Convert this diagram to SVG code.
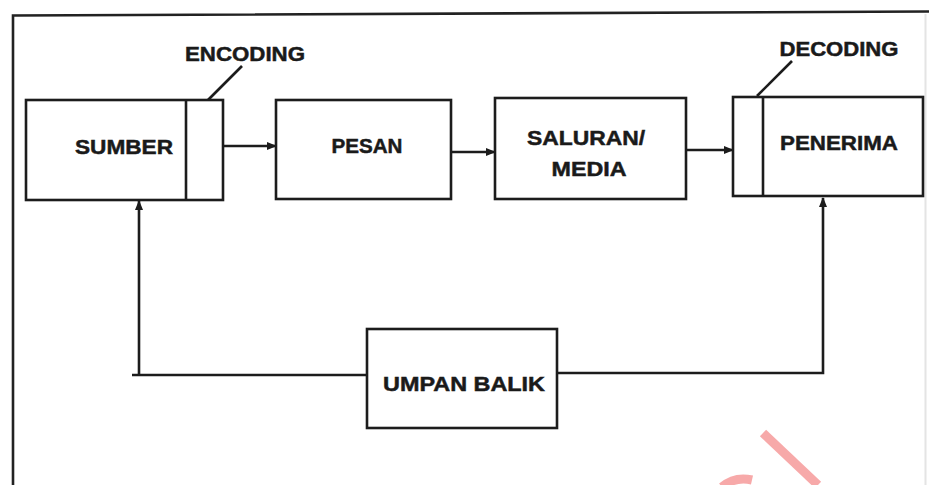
<svg xmlns="http://www.w3.org/2000/svg" width="929" height="485" viewBox="0 0 929 485">
<defs>
<marker id="ah" markerUnits="userSpaceOnUse" markerWidth="10" markerHeight="10" viewBox="0 0 10 10" refX="9" refY="5" orient="auto">
<path d="M0,1 L10,5 L0,9 Z" fill="#1c1c1c"/>
</marker>
<style>
.box{fill:#fff;stroke:#1c1c1c;stroke-width:2.6}
.ln{fill:none;stroke:#1c1c1c;stroke-width:2.6}
.t{font-family:"Liberation Sans",Arial,sans-serif;font-weight:bold;font-size:21px;fill:#1a1a1a;stroke:#1a1a1a;stroke-width:0.5;text-anchor:middle}
</style>
</defs>
<rect width="929" height="485" fill="#fff"/>
<g id="frame">
<path d="M13,485 L13,15.5 L929,11.5" fill="none" stroke="#222" stroke-width="2.6"/>
<line x1="925.5" y1="14" x2="925.5" y2="485" stroke="#e4e4e4" stroke-width="2"/>
</g>
<g id="connectors">
<line class="ln" x1="223" y1="146" x2="276" y2="146" marker-end="url(#ah)"/>
<line class="ln" x1="443" y1="152" x2="495" y2="152" marker-end="url(#ah)"/>
<line class="ln" x1="687" y1="150" x2="733" y2="150" marker-end="url(#ah)"/>
<path class="ln" d="M367,375 H132"/>
<path class="ln" d="M139,375 V201" marker-end="url(#ah)"/>
<path class="ln" d="M557,373 H823 V198" marker-end="url(#ah)"/>
<line class="ln" x1="242" y1="66" x2="208" y2="100" stroke-width="2"/>
<line class="ln" x1="792" y1="61" x2="757" y2="96" stroke-width="2"/>
</g>
<g id="sumber">
<rect class="box" x="26" y="100" width="197" height="100"/>
<line class="ln" x1="186" y1="100" x2="186" y2="200"/>
<text class="t" x="124" y="154" textLength="98" lengthAdjust="spacingAndGlyphs">SUMBER</text>
</g>
<g id="encoding">
<text class="t" x="245" y="61" textLength="120" lengthAdjust="spacingAndGlyphs">ENCODING</text>
</g>
<g id="pesan">
<rect class="box" x="276" y="100" width="175" height="99"/>
<text class="t" x="367" y="153" textLength="71" lengthAdjust="spacingAndGlyphs">PESAN</text>
</g>
<g id="saluran">
<rect class="box" x="495" y="98" width="191" height="101"/>
<text class="t" x="586" y="145" textLength="118" lengthAdjust="spacingAndGlyphs">SALURAN/</text>
<text class="t" x="589" y="176" textLength="75" lengthAdjust="spacingAndGlyphs">MEDIA</text>
</g>
<g id="penerima">
<rect class="box" x="733" y="97" width="190" height="99"/>
<line class="ln" x1="763" y1="97" x2="763" y2="196"/>
<text class="t" x="839" y="150" textLength="118" lengthAdjust="spacingAndGlyphs">PENERIMA</text>
</g>
<g id="decoding">
<text class="t" x="839" y="56" textLength="119" lengthAdjust="spacingAndGlyphs">DECODING</text>
</g>
<g id="umpan-balik">
<rect class="box" x="367" y="329" width="190" height="99"/>
<text class="t" x="464" y="391" textLength="162" lengthAdjust="spacingAndGlyphs">UMPAN BALIK</text>
</g>
<g id="mark">
<line x1="763" y1="433" x2="818" y2="485" stroke="#f7a9a9" stroke-width="9"/>
<path d="M722,487 Q735,476 752,480" fill="none" stroke="#f7a9a9" stroke-width="9"/>
</g>
</svg>
